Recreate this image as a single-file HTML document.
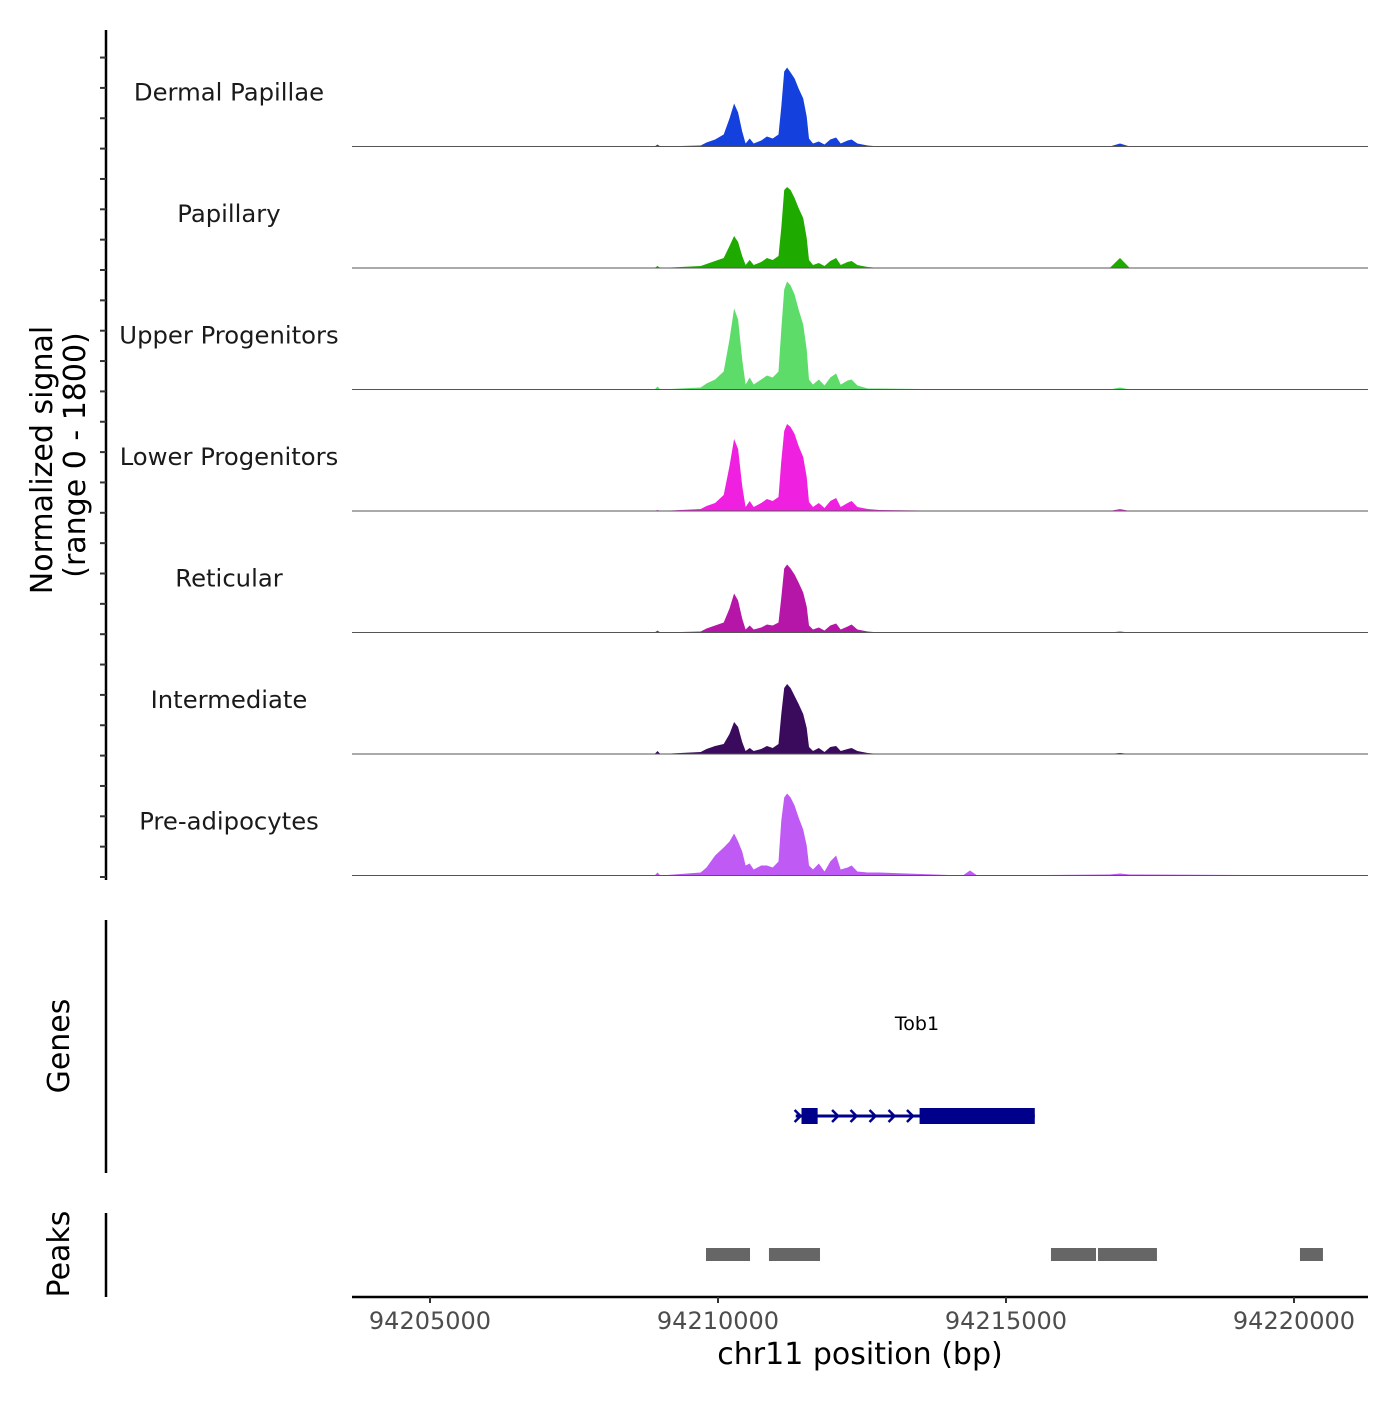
<!DOCTYPE html>
<html><head><meta charset="utf-8"><style>
body{margin:0;background:#fff}
svg text{font-family:"DejaVu Sans","Liberation Sans",sans-serif}
</style></head><body>
<svg id="chart" width="1400" height="1400" viewBox="0 0 1400 1400" xmlns="http://www.w3.org/2000/svg">
<g id="tracks"></g>
<g id="axes"></g>
</svg>
<script>
const positions=[94203650,94208900,94208950,94209000,94209700,94209800,94209950,94210100,94210200,94210280,94210350,94210420,94210480,94210550,94210620,94210750,94210850,94210950,94211050,94211100,94211150,94211200,94211260,94211330,94211400,94211480,94211540,94211580,94211650,94211750,94211850,94211950,94212050,94212130,94212250,94212320,94212420,94212600,94212800,94214250,94214375,94214500,94216800,94216980,94217150,94221300];
const trackNames=["Dermal Papillae","Papillary","Upper Progenitors","Lower Progenitors","Reticular","Intermediate","Pre-adipocytes"];
const trackColors=["#1440dd","#1faa00","#5ddc6a","#f020e0","#b516a8","#3a0a5c","#c05af5"];
const dermalPapillae=[0,0,2,0,1,4,7,12,28,43,34,15,3,8,3,6,10,8,12,40,75,79,74,68,58,48,30,8,3,5,2,7,9,3,6,7,3,1,0,0,0,0,0,3,0,0];
const papillary=[0,0,2,0,2,4,7,10,22,32,26,12,3,8,3,6,10,8,12,40,78,81,78,70,60,50,30,8,3,5,2,7,10,3,6,7,3,1,0,0,0,0,0,10,0,0];
const upperProgenitors=[0,0,3,0,2,6,10,18,50,81,70,30,5,12,5,10,14,12,18,60,100,108,104,95,80,65,40,10,5,10,4,12,16,5,9,10,4,1,1,0,0,0,0,2,0,0];
const lowerProgenitors=[0,0,1,0,2,5,8,16,45,72,62,25,4,10,4,8,12,10,14,50,80,87,84,77,65,54,34,9,4,8,3,10,13,4,8,10,4,2,1,0,0,0,0,2,0,0];
const reticular=[0,0,2,0,1,4,7,10,24,39,32,14,3,7,3,5,8,7,10,35,64,68,64,58,50,40,26,7,3,5,2,7,9,3,6,8,3,1,0,0,0,0,0,1,0,0];
const intermediate=[0,0,3,0,2,5,8,10,20,32,27,12,3,6,3,5,8,6,10,40,66,70,66,58,50,40,26,7,3,6,2,7,8,3,5,6,3,1,0,0,0,0,0,1,0,0];
const preAdipocytes=[0,0,3,0,3,8,20,28,34,42,34,24,10,12,6,10,10,8,14,55,78,82,78,70,58,46,30,10,6,12,4,14,20,6,8,10,4,3,3,0,5,0,1,2,1,0];
const xTicks=[94205000,94210000,94215000,94220000];
const peakStarts=[94209792,94210885,94215781,94216597,94220104];
const peakEnds=[94210556,94211771,94216563,94217621,94220503];
const geneExons=[[94211450,94211730],[94213500,94215500]];
const geneSpan=[94211350,94215500];

const NS="http://www.w3.org/2000/svg";
const X0=352,X1=1368,D0=94203646,D1=94221285;
function xs(bp){return X0+(bp-D0)/(D1-D0)*(X1-X0);}
const TRACK_TOP=31,TRACK_H=121.5,YMAX=121.5;
function ys(v,i){const base=TRACK_TOP+TRACK_H*(i+1)-6;return base-v/YMAX*TRACK_H;}
function mk(tag,attrs,parent){const e=document.createElementNS(NS,tag);for(const k in attrs)e.setAttribute(k,attrs[k]);parent.appendChild(e);return e;}
const tracks=document.getElementById('tracks'),axes=document.getElementById('axes');
const series=[dermalPapillae,papillary,upperProgenitors,lowerProgenitors,reticular,intermediate,preAdipocytes];
series.forEach((vals,i)=>{
  let d="M"+xs(positions[0])+","+ys(0,i);
  vals.forEach((v,j)=>{d+=" L"+xs(positions[j]).toFixed(1)+","+ys(v,i).toFixed(1);});
  d+=" L"+xs(positions[positions.length-1])+","+ys(0,i)+" Z";
  const p=mk('path',{d:d,fill:trackColors[i]},tracks);
  
  
  const b=ys(0,i);
  const l=mk('line',{x1:X0,x2:X1,y1:b,y2:b,stroke:'#555','stroke-width':1},tracks);
  
  
  const t=mk('text',{x:229,y:b-46,'font-size':24.3,'text-anchor':'middle',fill:'#1a1a1a'},tracks);
  t.textContent=trackNames[i];
  
  
});
mk('line',{x1:106,x2:106,y1:30,y2:880,stroke:'#000','stroke-width':2.5},axes);
for(let k=0;k<=28;k++){const y=877-k*30.35;if(y<40)break;mk('line',{x1:100,x2:106,y1:y,y2:y,stroke:'#333','stroke-width':2},axes);}
mk('line',{x1:106,x2:106,y1:920,y2:1173,stroke:'#000','stroke-width':2.5},axes);
mk('line',{x1:106,x2:106,y1:1213,y2:1297,stroke:'#000','stroke-width':2.5},axes);
function rotText(x,y,s,name){const t=mk('text',{x:x,y:y,'font-size':30,'text-anchor':'middle',transform:`rotate(-90 ${x} ${y})`,fill:'#000'},axes);t.textContent=s;}
rotText(52,460,"Normalized signal","y-axis-title");
rotText(85,455,"(range 0 - 1800)","y-axis-range");
rotText(69,1046,"Genes","genes-axis-title");
rotText(69,1254,"Peaks","peaks-axis-title");
const gy=1116;
mk('line',{x1:xs(geneSpan[0]),x2:xs(geneSpan[1]),y1:gy,y2:gy,stroke:'#00008b','stroke-width':3},axes);
geneExons.forEach(e=>{const r=mk('rect',{x:xs(e[0]),y:gy-8,width:xs(e[1])-xs(e[0]),height:16,fill:'#00008b'},axes);});
[94211400,94212050,94212370,94212700,94213030,94213350].forEach(bp=>{const x=xs(bp);mk('polyline',{points:`${x-4},${gy-6} ${x+2},${gy} ${x-4},${gy+6}`,fill:'none',stroke:'#00008b','stroke-width':2.5},axes);});
const gl=mk('text',{x:917,y:1030,'font-size':19,'text-anchor':'middle',fill:'#000'},axes);gl.textContent="Tob1";
peakStarts.forEach((s,i)=>{const r=mk('rect',{x:xs(s),y:1248,width:xs(peakEnds[i])-xs(s),height:13,fill:'#666'},axes);});
mk('line',{x1:X0,x2:X1,y1:1297,y2:1297,stroke:'#000','stroke-width':2.5},axes);
xTicks.forEach(v=>{const x=xs(v);mk('line',{x1:x,x2:x,y1:1297,y2:1303,stroke:'#333','stroke-width':2},axes);const t=mk('text',{x:x,y:1329,'font-size':24,'text-anchor':'middle',fill:'#4d4d4d'},axes);t.textContent=v;});
const xt=mk('text',{x:860,y:1364,'font-size':30,'text-anchor':'middle',fill:'#000'},axes);xt.textContent="chr11 position (bp)";
</script>
</body></html>
